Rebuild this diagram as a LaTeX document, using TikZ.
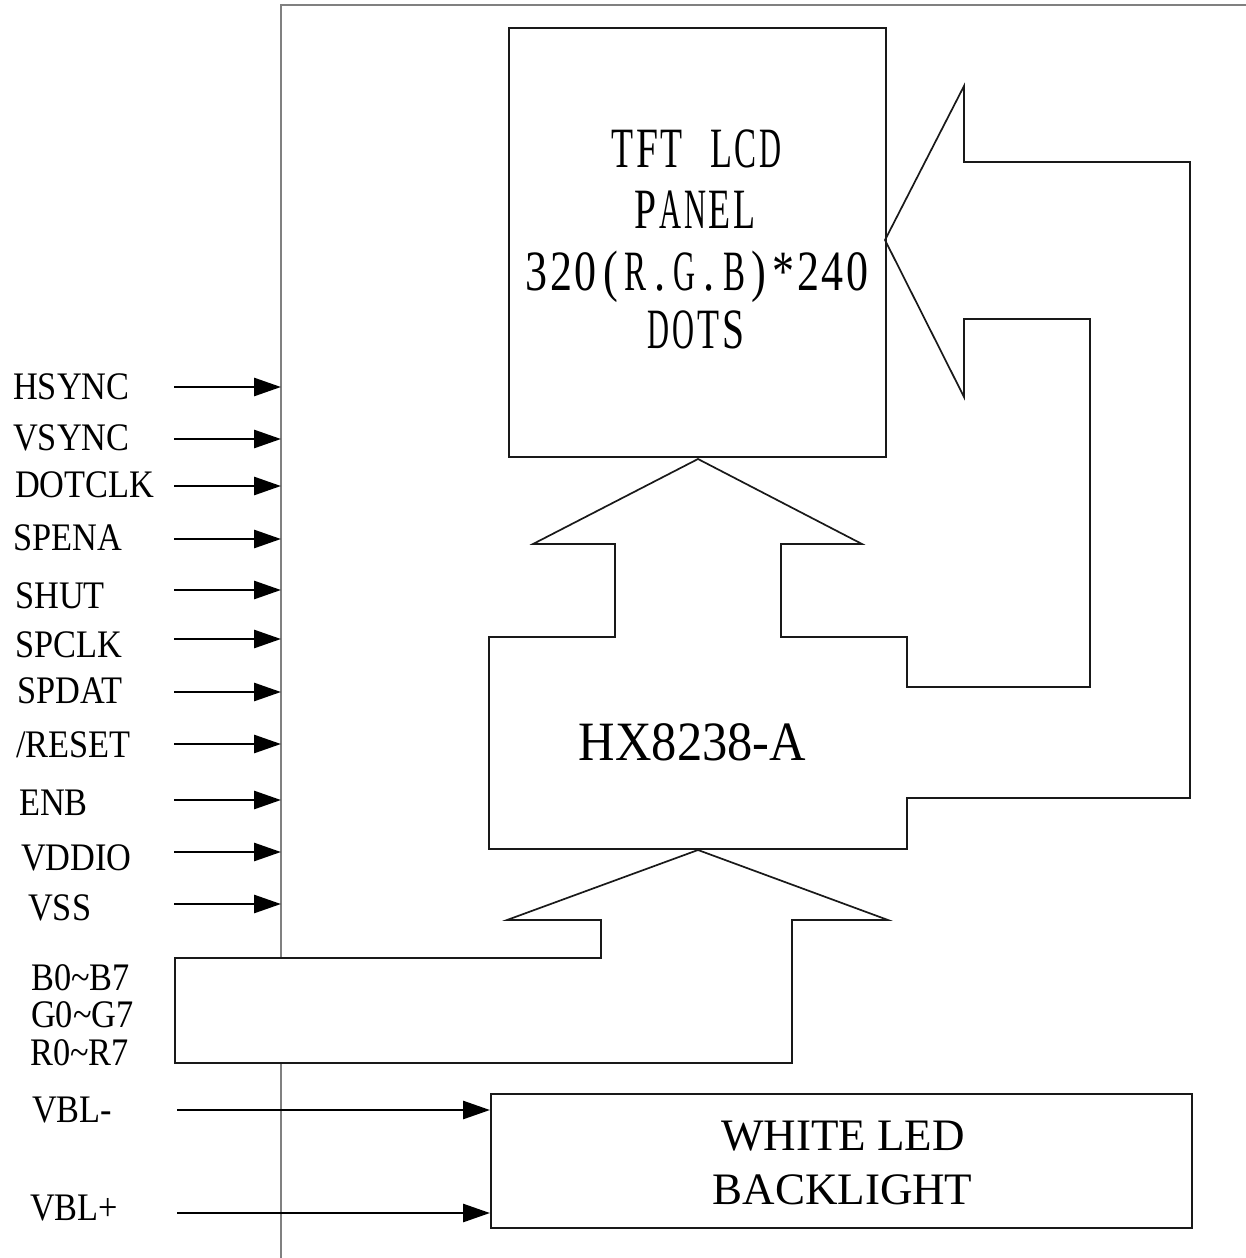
\documentclass[tikz,border=0pt]{standalone}
\usepackage{fontspec}
\setmainfont{Liberation Serif}
\usepackage{graphicx}
\usetikzlibrary{arrows.meta}
\makeatletter
\newlength\monoW
\newcommand\monostr[1]{\mono@loop#1\relax}
\def\mono@loop#1{\ifx\relax#1\else\mono@char{#1}\expandafter\mono@loop\fi}
\newcommand\mono@char[1]{\settowidth\monoW{#1}\pgfmathsetmacro\monoS{min(0.78,22/max(\monoW,1))}\makebox[24.7pt][c]{\scalebox{\monoS}[1]{#1}}}
\makeatother
\newcommand\sx[1]{\scalebox{0.88}[1]{#1}}
\begin{document}
\begin{tikzpicture}[x=1pt,y=-1pt,
  frame/.style={line width=2.4pt, draw=black!50},
  poly/.style={line width=1.7pt, draw=black!90, line join=miter},
  boxx/.style={draw=black!90, line width=1.7pt, inner sep=0pt, anchor=north west},
  sig/.style={line width=2.8pt, -{Triangle[length=27pt,width=18pt]}},
  lbl/.style={anchor=base west, inner sep=0pt, font=\fontsize{39}{39}\selectfont},
  lcdtxt/.style={anchor=base, inner sep=0pt, font=\fontsize{57}{57}\selectfont},
  bigtxt/.style={anchor=base, inner sep=0pt}]
\useasboundingbox (0,0) rectangle (1245,1258);
\fill[white] (0,0) rectangle (1245,1258);

% outer frame
\draw[frame] (281,958) -- (281,5) -- (1250,5);
\draw[frame] (281,1063) -- (281,1262);

% TFT LCD panel
\node[boxx, minimum width=377pt, minimum height=429pt] (lcd) at (508,27) {};
\node[lcdtxt] (lcd1) at (696.5,167) {\monostr{TFT~LCD}};
\node[lcdtxt] (lcd2) at (695,228) {\monostr{PANEL}};
\node[lcdtxt] (lcd3) at (697,290) {\monostr{320(R.G.B)*240}};
\node[lcdtxt] (lcd4) at (696,348) {\monostr{DOTS}};

% driver block with arrows
\draw[poly] (885,240) -- (964,86) -- (964,162) -- (1190,162) -- (1190,798)
  -- (907,798) -- (907,849) -- (489,849) -- (489,637) -- (615,637) -- (615,544)
  -- (533,544) -- (698,459) -- (862,544) -- (781,544) -- (781,637) -- (907,637)
  -- (907,687) -- (1090,687) -- (1090,319) -- (964,319) -- (964,397) -- cycle;
\node[bigtxt, font=\fontsize{55.5}{55.5}\selectfont] (hx) at (692.5,760) {\scalebox{0.91}[1]{HX8238-A}};

% RGB bus arrow
\draw[poly] (698,850) -- (507,920) -- (601,920) -- (601,958) -- (175,958)
  -- (175,1063) -- (792,1063) -- (792,920) -- (888,920) -- cycle;

% backlight
\node[boxx, minimum width=701pt, minimum height=134pt] (bl) at (490,1093) {};
\node[bigtxt, font=\fontsize{45}{45}\selectfont] (bl1) at (843,1150) {WHITE LED};
\node[bigtxt, font=\fontsize{45}{45}\selectfont] (bl2) at (842.5,1204) {BACKLIGHT};

% signal labels
\node[lbl] (hsync) at (13,399) {\sx{HSYNC}};
\node[lbl] (vsync) at (13,450) {\sx{VSYNC}};
\node[lbl] (dotclk) at (15,497) {\sx{DOTCLK}};
\node[lbl] (spena) at (13,550) {\sx{SPENA}};
\node[lbl] (shut) at (15,608) {\sx{SHUT}};
\node[lbl] (spclk) at (15,657) {\sx{SPCLK}};
\node[lbl] (spdat) at (17,703) {\sx{SPDAT}};
\node[lbl] (reset) at (16,757) {\sx{/RESET}};
\node[lbl] (enb) at (19,815) {\sx{ENB}};
\node[lbl] (vddio) at (21,870) {\sx{VDDIO}};
\node[lbl] (vss) at (28,920) {\sx{VSS}};
\node[lbl] (bbus) at (31,990) {\sx{B0\textasciitilde B7}};
\node[lbl] (gbus) at (31,1027) {\sx{G0\textasciitilde G7}};
\node[lbl] (rbus) at (30,1065) {\sx{R0\textasciitilde R7}};
\node[lbl] (vblm) at (32,1122) {\sx{VBL-}};
\node[lbl] (vblp) at (30,1220) {\sx{VBL+}};

% signal arrows
\foreach \nm/\ay in {hsync/387, vsync/439, dotclk/486, spena/539, shut/590,
  spclk/639, spdat/692, reset/744, enb/800, vddio/852, vss/904} {
  \coordinate (\nm-a) at (174,\ay);
  \coordinate (\nm-b) at (281,\ay);
  \draw[sig] (\nm-a) -- (\nm-b);
}
\coordinate (vblm-a) at (177,1110);
\coordinate (vblp-a) at (177,1213);
\draw[sig] (vblm-a) -- (vblm-a -| bl.west);
\draw[sig] (vblp-a) -- (vblp-a -| bl.west);
\end{tikzpicture}
\end{document}
